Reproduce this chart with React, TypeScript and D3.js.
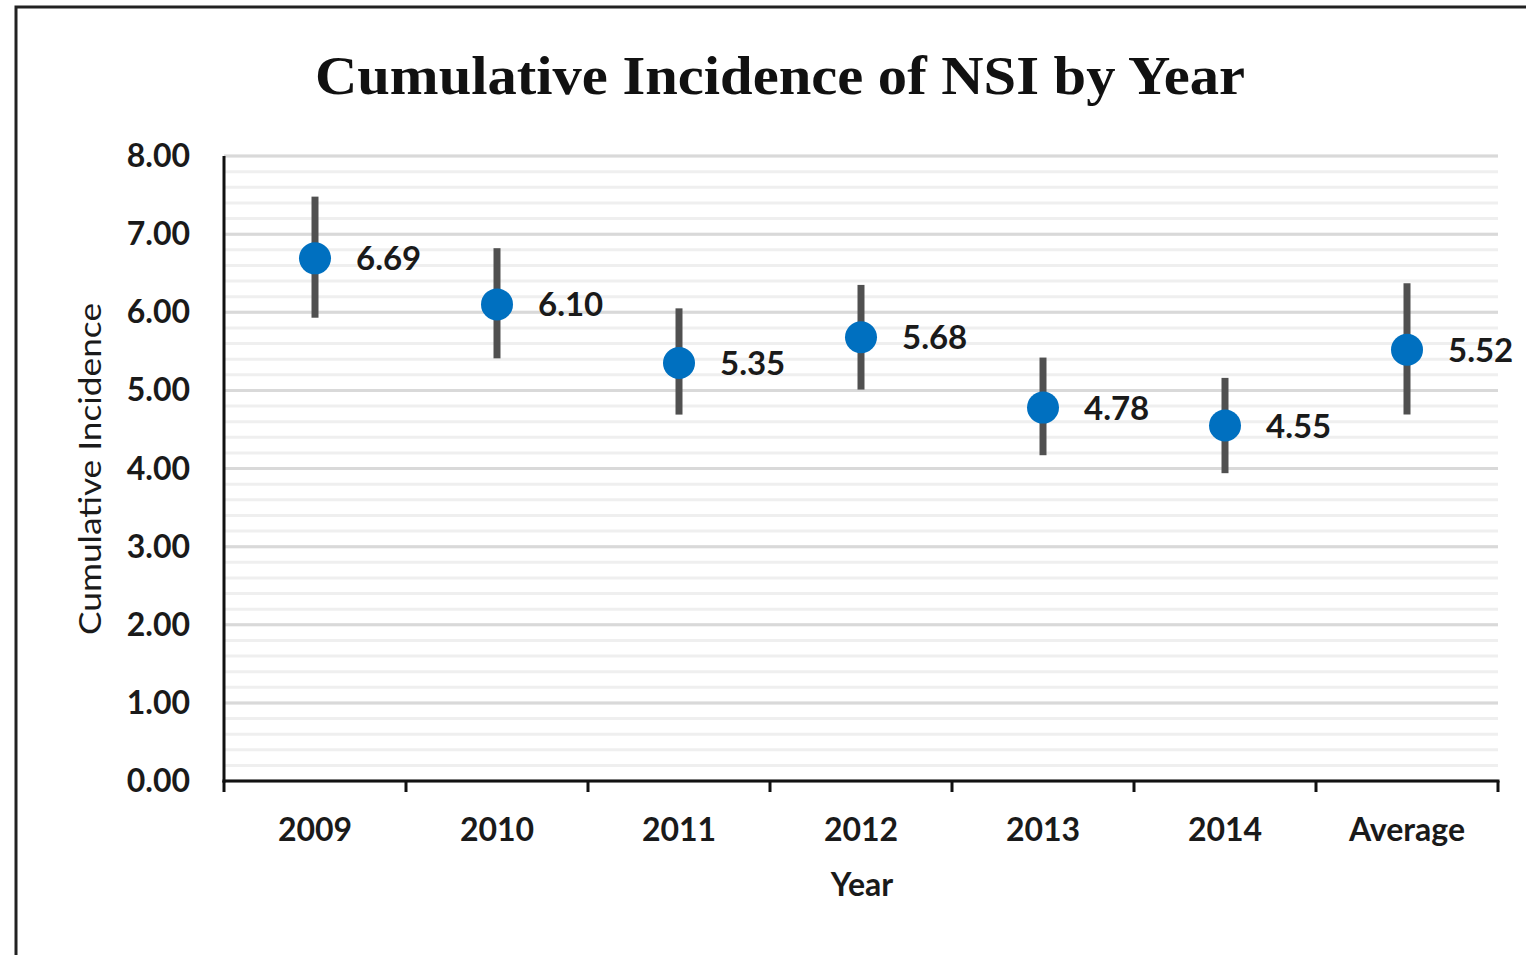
import React from "react";
import * as d3 from "d3";

const categories = ["2009", "2010", "2011", "2012", "2013", "2014", "Average"];
const values = [6.69, 6.10, 5.35, 5.68, 4.78, 4.55, 5.52];
const upper = [7.48, 6.82, 6.05, 6.35, 5.42, 5.16, 6.37];
const lower = [5.93, 5.41, 4.69, 5.01, 4.17, 3.94, 4.69];
const yTicks = [0, 1, 2, 3, 4, 5, 6, 7, 8];
const minorTicks = d3.range(0, 8.001, 0.2);

const W = 1526;
const H = 955;
const left = 224;
const right = 1498;
const top = 156;
const bottom = 781;

export default function App() {
  const x = d3.scaleBand<string>().domain(categories).range([left, right]).padding(0);
  const y = d3.scaleLinear().domain([0, 8]).range([bottom, top]);
  const bw = x.bandwidth();
  const font = "Lato, 'Open Sans', sans-serif";
  return (
    <svg width={W} height={H} style={{ position: "absolute", left: 0, top: 0, background: "#fff" }}>
      <rect x={0} y={0} width={W} height={H} fill="#fff" />
      {/* outer frame */}
      <rect x={16} y={7} width={W + 20} height={H + 20} fill="none" stroke="#222" strokeWidth={3} />
      <text x={780} y={94} textAnchor="middle" fontFamily="'Liberation Serif', 'DejaVu Serif', serif" fontWeight="bold" fontSize={54} fill="#111" textLength={930} lengthAdjust="spacingAndGlyphs">
        Cumulative Incidence of NSI by Year
      </text>
      {/* minor gridlines */}
      {minorTicks.map((t, i) => (
        <line key={"m" + i} x1={left} x2={right} y1={y(t)} y2={y(t)} stroke="#efefef" strokeWidth={3} />
      ))}
      {/* major gridlines */}
      {yTicks.map((t) => (
        <line key={"g" + t} x1={left} x2={right} y1={y(t)} y2={y(t)} stroke="#d9d9d9" strokeWidth={3} />
      ))}
      {/* y tick labels */}
      {yTicks.map((t) => (
        <text key={"yl" + t} x={190} y={y(t) + 11} textAnchor="end" fontFamily={font} fontWeight="bold" fontSize={32} fill="#1a1a1a">
          {d3.format(".2f")(t)}
        </text>
      ))}
      {/* axes */}
      <line x1={left} x2={left} y1={top} y2={bottom + 1.5} stroke="#111" strokeWidth={3} />
      <line x1={left - 1.5} x2={right + 1.5} y1={bottom} y2={bottom} stroke="#111" strokeWidth={3} />
      {categories.map((c) => (
        <line key={"t" + c} x1={x(c)!} x2={x(c)!} y1={bottom} y2={bottom + 11} stroke="#111" strokeWidth={3} />
      ))}
      <line x1={right} x2={right} y1={bottom} y2={bottom + 11} stroke="#111" strokeWidth={3} />
      {/* x tick labels */}
      {categories.map((c) => (
        <text key={"xl" + c} x={x(c)! + bw / 2} y={841} textAnchor="middle" fontFamily={font} fontWeight="bold" fontSize={32} fill="#1a1a1a">
          {c}
        </text>
      ))}
      <text x={862} y={896} textAnchor="middle" fontFamily={font} fontWeight="bold" fontSize={32} fill="#1a1a1a">
        Year
      </text>
      <text transform={`translate(101,469) rotate(-90)`} textAnchor="middle" fontFamily={font} fontSize={30} fill="#1a1a1a" textLength={332} lengthAdjust="spacingAndGlyphs">
        Cumulative Incidence
      </text>
      {/* error bars */}
      {categories.map((c, i) => (
        <line key={"e" + c} x1={x(c)! + bw / 2} x2={x(c)! + bw / 2} y1={y(upper[i])} y2={y(lower[i])} stroke="#505050" strokeWidth={7} />
      ))}
      {/* points */}
      {categories.map((c, i) => (
        <circle key={"p" + c} cx={x(c)! + bw / 2} cy={y(values[i])} r={16} fill="#0070C0" />
      ))}
      {/* data labels */}
      {categories.map((c, i) => (
        <text key={"d" + c} x={x(c)! + bw / 2 + 41} y={y(values[i]) + 12} fontFamily={font} fontWeight="bold" fontSize={33} fill="#1a1a1a">
          {d3.format(".2f")(values[i])}
        </text>
      ))}
    </svg>
  );
}
